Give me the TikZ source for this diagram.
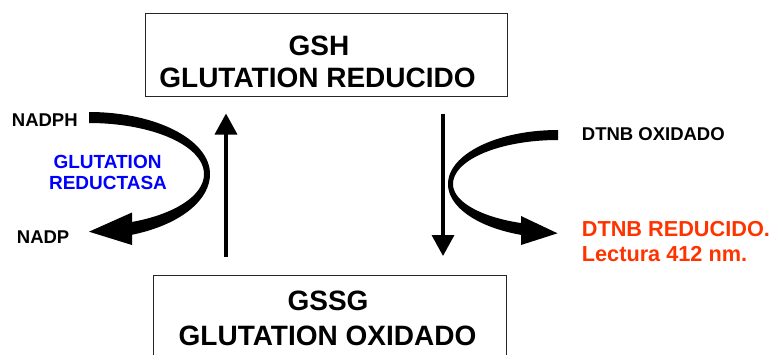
\documentclass[tikz,border=0pt]{standalone}
\usepackage{fontspec}
\setmainfont{Liberation Sans}
\usetikzlibrary{arrows.meta}
\definecolor{enzblue}{RGB}{0,0,255}
\definecolor{readred}{RGB}{255,51,0}
\begin{document}
\begin{tikzpicture}[x=1pt,y=-1pt,
  box/.style={draw=black!85,line width=1pt,rectangle,inner sep=0pt},
  title/.style={inner sep=0pt,anchor=base,font=\bfseries\fontsize{28}{32}\selectfont},
  small/.style={inner sep=0pt,anchor=base west,font=\bfseries\fontsize{18.5}{22}\selectfont},
  enz/.style={inner sep=0pt,anchor=base,text=enzblue,font=\bfseries\fontsize{19}{22}\selectfont},
  readout/.style={inner sep=0pt,anchor=base west,text=readred,font=\bfseries\fontsize{21.7}{25}\selectfont},
  stem/.style={line width=3.5pt,-{Triangle[width=22pt,length=21pt]}}]
\useasboundingbox (0,0) rectangle (777,354);
\clip (0,0) rectangle (777,354);

% the two glutathione states
\node[box,minimum width=362pt,minimum height=83pt] (gsh) at (326,54.5) {};
\node[title] (gshA) at (319,55) {GSH};
\node[title] (gshB) at (317.5,87) {GLUTATION REDUCIDO};

\node[box,minimum width=353pt,minimum height=83pt] (gssg) at (329.5,316.5) {};
\node[title] (gssgA) at (328,310) {GSSG};
\node[title] (gssgB) at (327.5,345) {GLUTATION OXIDADO};

% vertical reaction arrows
\coordinate (ux) at (226,0);
\coordinate (dx) at (443,0);
\draw[stem,shorten <=18pt,shorten >=17pt] (gssg.north -| ux) -- (gsh.south -| ux);
\draw[stem,shorten <=17pt,shorten >=18.5pt] (gsh.south -| dx) -- (gssg.north -| dx);

% cofactor side: NADPH -> NADP
\node[small] (nadph) at (11.7,126.7) {NADPH};
\node[small] (nadp) at (16.7,243.3) {NADP};
\node[enz] (enzA) at (107.5,168.3) {GLUTATION};
\node[enz] (enzB) at (108,189.3) {REDUCTASA};

\fill plot[domain=-90:0,samples=40] ({89+121*cos(\x)},{174+62*sin(\x)})
  -- plot[domain=0:69.2,samples=40] ({89+121*cos(\x)},{174+65*sin(\x)})
  -- plot[domain=68:0,samples=40] ({89+115*cos(\x)},{174+51.7*sin(\x)})
  -- plot[domain=0:-90,samples=40] ({89+115*cos(\x)},{174+51*sin(\x)})
  -- cycle;
\fill (132,212.5) -- (89,231.7) -- (132,245) -- cycle;

% indicator side: DTNB oxidised -> reduced
\node[small] (dtnbox) at (581.7,140.7) {DTNB OXIDADO};
\node[readout] (dtnbred) at (581.7,236.7) {DTNB REDUCIDO.};
\node[readout] (lect) at (581.7,261) {Lectura 412 nm.};

\fill plot[domain=-90:0,samples=40] ({558-110*cos(\x)},{184+54*sin(\x)})
  -- plot[domain=0:70.35,samples=40] ({558-110*cos(\x)},{184+54*sin(\x)})
  -- plot[domain=69.4:0,samples=40] ({558-105*cos(\x)},{184+41.7*sin(\x)})
  -- plot[domain=0:-90,samples=40] ({558-105*cos(\x)},{184+44*sin(\x)})
  -- cycle;
\fill (521,216) -- (557.5,233.3) -- (521,245) -- cycle;
\end{tikzpicture}
\end{document}
